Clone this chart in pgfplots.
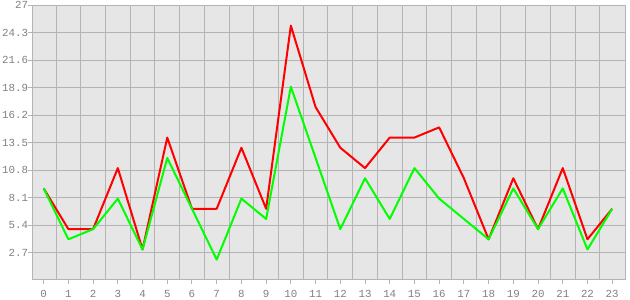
\documentclass[border=0pt]{standalone}
\usepackage{fontspec}
\setmainfont{Liberation Mono}
\usepackage{pgfplots}
\pgfplotsset{compat=1.18}
\definecolor{bg}{RGB}{230,230,230}
\definecolor{gridc}{RGB}{180,180,180}
\definecolor{txt}{RGB}{128,128,128}
\begin{document}
\begin{tikzpicture}
\begin{axis}[
  scale only axis, width=593pt, height=274.7pt,
  xmin=-0.46, xmax=23.53, ymin=0, ymax=27,
  axis background/.style={fill=bg},
  axis line style={gridc, line width=1pt},
  xtick={0,...,23},
  minor xtick={0.5,1.5,...,22.5},
  xminorgrids, ymajorgrids,
  minor grid style={gridc, line width=1pt},
  major grid style={gridc, line width=1pt},
  ytick={2.7,5.4,8.1,10.8,13.5,16.2,18.9,21.6,24.3,27},
  yticklabels={2.7,5.4,8.1,10.8,13.5,16.2,18.9,21.6,24.3,27},
  tick align=outside, major tick length=4pt, minor tick length=0pt,
  tick style={gridc, line width=1pt},
  xtick pos=lower, ytick pos=left,
  tick label style={font=\fontsize{10.8}{12}\selectfont, text=txt, inner sep=0pt},
  yticklabel style={xshift=0pt},
  xticklabel style={yshift=-6pt},
  /pgf/number format/assume math mode=true,
]
\addplot[red, line width=2pt, line join=round, no marks] coordinates {
(0,9)(1,5)(2,5)(3,11)(4,3)(5,14)(6,7)(7,7)(8,13)(9,7)(10,25)(11,17)
(12,13)(13,11)(14,14)(15,14)(16,15)(17,10)(18,4)(19,10)(20,5)(21,11)(22,4)(23,7)};
\addplot[green, line width=2pt, line join=round, no marks] coordinates {
(0,9)(1,4)(2,5)(3,8)(4,3)(5,12)(6,7)(7,2)(8,8)(9,6)(10,19)(11,12)
(12,5)(13,10)(14,6)(15,11)(16,8)(17,6)(18,4)(19,9)(20,5)(21,9)(22,3)(23,7)};
\end{axis}
\pgfresetboundingbox
\useasboundingbox ([shift={(-32.3pt,-20pt)}]current axis.south west) rectangle ([shift={(4.7pt,5.3pt)}]current axis.north east);
\end{tikzpicture}
\end{document}
